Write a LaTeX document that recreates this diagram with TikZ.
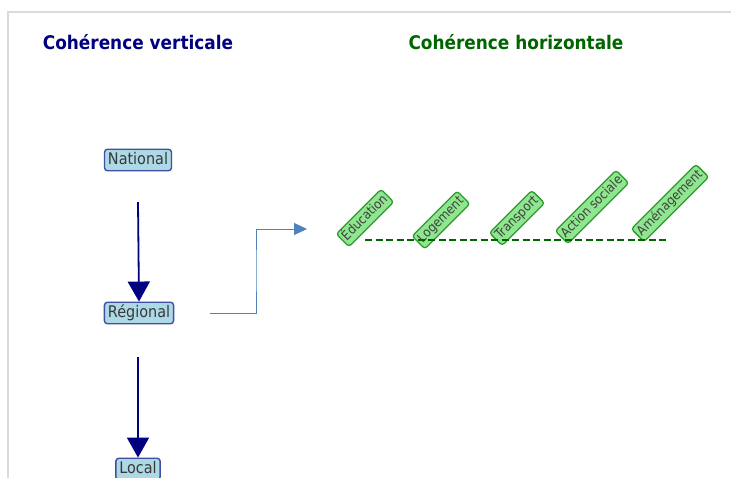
\documentclass[tikz,border=0pt]{standalone}
\usepackage{fontspec}
\setmainfont[FakeStretch=0.9]{DejaVu Sans}
\usetikzlibrary{arrows.meta}
\definecolor{frameg}{HTML}{DADADA}
\definecolor{navyc}{HTML}{000080}
\definecolor{dgreen}{HTML}{006400}
\definecolor{lblue}{HTML}{ADD8E6}
\definecolor{bedge}{HTML}{4050A0}
\definecolor{lgreen}{HTML}{8EE68E}
\definecolor{gedge}{HTML}{2E9A2E}
\definecolor{steel}{HTML}{4F81BD}
\tikzset{
  title/.style={font=\fontsize{18.8}{22}\selectfont\bfseries},
  lvl/.style={draw=bedge, fill=lblue, line width=1.4pt, rounded corners=3pt,
    inner xsep=3.5pt, inner ysep=3pt, text height=12pt, text depth=3.5pt,
    font=\fontsize{16}{18}\selectfont, text=black!78},
  sect/.style={draw=gedge, fill=lgreen, line width=1.3pt, rounded corners=3pt,
    inner xsep=2.5pt, inner ysep=2.5pt, text height=10pt, text depth=3pt,
    rotate=45, font=\fontsize{13}{15}\selectfont, text=black!75},
  down/.style={navyc, line width=1.8pt, -{Triangle[length=20pt,width=22pt]}},
  elbow/.style={steel, line width=1pt, -{Triangle[length=13pt,width=12pt]}},
  dline/.style={dgreen, line width=1.6pt, dash pattern=on 7pt off 3.5pt}
}
\begin{document}
\begin{tikzpicture}[x=1pt,y=-1pt]
\useasboundingbox (0,0) rectangle (731,477);
\clip (0,0) rectangle (731,477);
\draw[frameg, line width=1.8pt] (8,500) -- (8,12) -- (740,12);
\node[title, navyc] (t1) at (138,42) {Cohérence verticale};
\node[title, dgreen] (t2) at (516,42) {Cohérence horizontale};
\node[lvl] (nat) at (138,160) {National};
\node[lvl] (reg) at (139,313) {Régional};
\node[lvl] (loc) at (138,469) {Local};
\coordinate (a1) at (138,202);
\coordinate (a2) at (138,357);
\draw[down] (a1) -- (reg.north);
\draw[down] (a2) -- (loc.north);
\coordinate (e1) at (210,313);
\coordinate (em) at (256,270);
\coordinate (e2) at (307,229);
\draw[elbow] (e1) -| (em) |- (e2);
\node[sect] (s1) at (365,218) {Éducation};
\node[sect] (s2) at (441,220) {Logement};
\node[sect] (s3) at (517,218) {Transport};
\node[sect] (s4) at (592,207) {Action sociale};
\node[sect] (s5) at (670,203) {Aménagement};
\coordinate (d1) at (365,240);
\coordinate (d2) at (668,240);
\draw[dline] (d1) -- (d2);
\end{tikzpicture}
\end{document}
